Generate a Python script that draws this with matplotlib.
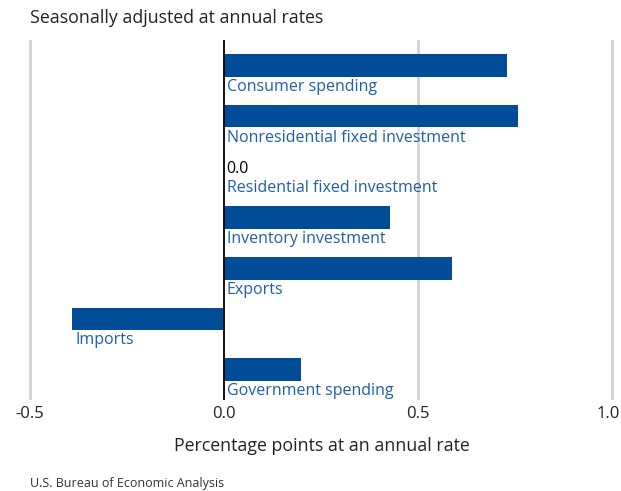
import matplotlib.pyplot as plt
from matplotlib.transforms import ScaledTranslation

# contributions to percent change in real GDP, percentage points
categories = [
    "Consumer spending",
    "Nonresidential fixed investment",
    "Residential fixed investment",
    "Inventory investment",
    "Exports",
    "Imports",
    "Government spending",
]
values = [0.73, 0.76, 0.0, 0.43, 0.59, -0.39, 0.20]
xticks = [-0.5, 0.0, 0.5, 1.0]
xtick_labels = ["-0.5", "0.0", "0.5", "1.0"]

BAR = "#004c97"
LABEL = "#1f5ea8"
GRID = "#d3d3d3"
FONT = ["Open Sans", "DejaVu Sans"]

W, H = 621, 491
fig = plt.figure(figsize=(W / 100, H / 100), dpi=100)
ax = fig.add_axes([23.7 / W, 1 - 400 / H, 591.7 / W, 360 / H])

rows = range(len(categories))
ax.barh(rows, values, height=0.448, color=BAR, zorder=2)
ax.set_xlim(-0.515, 1.01)
ax.set_ylim(6.6, -0.501)

for x in xticks:
    if x == 0:
        ax.axvline(0, color="black", lw=1.3, zorder=3)
    else:
        ax.axvline(x, color=GRID, lw=2, zorder=1)

for i, (name, v) in enumerate(zip(categories, values)):
    x0 = min(v, 0) + 0.008
    ax.text(x0, i + 0.426, name, color=LABEL, fontsize=11.5, family=FONT,
            va="center", ha="left")
    if v == 0:
        ax.text(x0, i + 0.04, f"{v:.1f}", color="black", fontsize=11.5,
                family=FONT, va="center", ha="left")

for s in ax.spines.values():
    s.set_visible(False)
ax.set_yticks([])
ax.set_xticks(xticks)
ax.set_xticklabels(xtick_labels, family=FONT, fontsize=12, color="#222222")
ax.tick_params(axis="x", length=0, pad=4)
# keep the rightmost tick label inside the figure edge
last = ax.get_xticklabels()[-1]
last.set_transform(last.get_transform() + ScaledTranslation(-3 / 100, 0, fig.dpi_scale_trans))

fig.text(30 / W, 1 - 18 / H, "Seasonally adjusted at annual rates", family=FONT,
         fontsize=12.8, color="#222222", va="center", ha="left")
fig.text(322 / W, 1 - 446 / H, "Percentage points at an annual rate", family=FONT,
         fontsize=12.8, color="#222222", va="center", ha="center")
fig.text(30 / W, 1 - 484 / H, "U.S. Bureau of Economic Analysis", family=FONT,
         fontsize=9, color="#333333", va="center", ha="left")

fig.savefig("out.png", dpi=100)
